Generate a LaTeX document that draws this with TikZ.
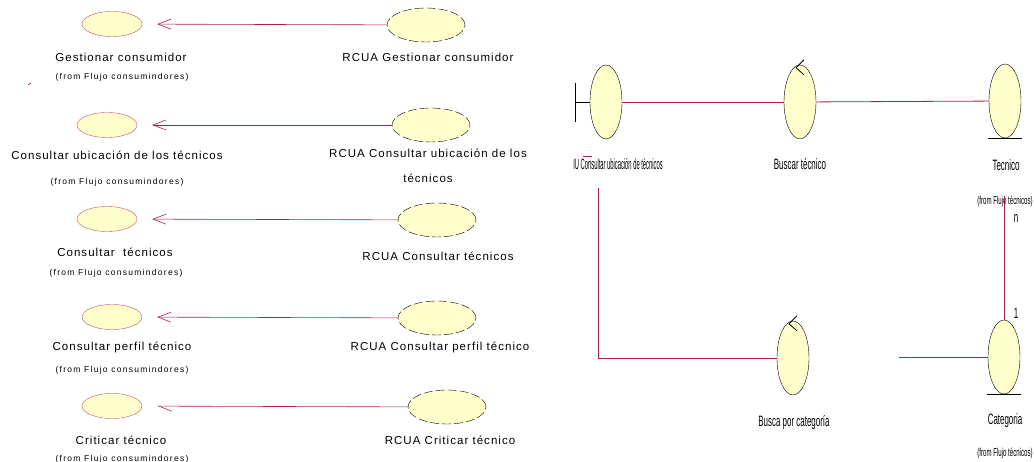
\documentclass[tikz,border=0pt]{standalone}
\usepackage{graphicx}
\usepackage{fontspec}
\setmainfont{Liberation Sans}
\newfontfamily\spacedfont[LetterSpace=9]{Liberation Sans}
\newfontfamily\widefont[LetterSpace=15]{Liberation Sans}
\newfontfamily\narrowfont[FakeStretch=0.53]{Liberation Sans}
\usetikzlibrary{shapes.geometric,arrows.meta}
\definecolor{linkred}{RGB}{170,30,75}
\definecolor{caseedge}{RGB}{200,80,110}
\definecolor{casefill}{RGB}{255,255,204}

\begin{document}
\begin{tikzpicture}[x=1pt,y=-1pt,
	usecase/.style={ellipse,draw=caseedge,fill=casefill,minimum width=60pt,minimum height=25pt,inner sep=0pt},
	realiz/.style={ellipse,draw,dash pattern=on 9pt off 3pt,fill=casefill,minimum width=78pt,minimum height=34pt,inner sep=0pt},
	robust/.style={ellipse,draw,fill=casefill,minimum width=32pt,minimum height=74pt,inner sep=0pt},
	ctrltip/.style={draw,line width=0.8pt},
	caselabel/.style={font=\spacedfont\fontsize{11.5}{25}\selectfont,inner sep=0pt,align=center},
	fromlabel/.style={font=\widefont\fontsize{8.5}{10}\selectfont,inner sep=0pt},
	rlabel/.style={font=\narrowfont\fontsize{15}{17}\selectfont,inner sep=0pt},
	rfrom/.style={font=\narrowfont\fontsize{11.5}{13}\selectfont,inner sep=0pt},
	realize/.style={draw=linkred,line width=0.6pt,-{Straight Barb[length=13pt,width=10pt]},shorten >=15pt},
	link/.style={draw=linkred,line width=0.8pt}]
	\useasboundingbox (0,0) rectangle (1034,462);

		\node [usecase] (u1) at (112,24) {};
		\node [realiz] (r1) at (426,25) {};
		\draw [realize] (r1) -- (u1);
		\node [caselabel] (u1l) at (121,57) {Gestionar consumidor};
		\node [fromlabel] (u1f) at (122,77) {(from Flujo consumindores)};
		\node [caselabel] (r1l) at (428,57) {RCUA Gestionar consumidor};

		\node [usecase] (u2) at (107,125) {};
		\node [realiz] (r2) at (431,125) {};
		\draw [realize] (r2) -- (u2);
		\node [caselabel] (u2l) at (117,155) {Consultar ubicación de los técnicos};
		\node [fromlabel] (u2f) at (117,182) {(from Flujo consumindores)};
		\node [caselabel,anchor=north] (r2l) at (428,149) {RCUA Consultar ubicación de los\\técnicos};

		\node [usecase] (u3) at (107,219) {};
		\node [realiz] (r3) at (437,220) {};
		\draw [realize] (r3) -- (u3);
		\node [caselabel] (u3l) at (115,252) {Consultar\ \ técnicos};
		\node [fromlabel] (u3f) at (116,273) {(from Flujo consumindores)};
		\node [caselabel] (r3l) at (438,256) {RCUA Consultar técnicos};

		\node [usecase] (u4) at (112,317) {};
		\node [realiz] (r4) at (437,318) {};
		\draw [realize] (r4) -- (u4);
		\node [caselabel] (u4l) at (122,347) {Consultar perfil técnico};
		\node [fromlabel] (u4f) at (122,370) {(from Flujo consumindores)};
		\node [caselabel] (r4l) at (440,347) {RCUA Consultar perfil técnico};

		\node [usecase] (u5) at (112,406) {};
		\node [realiz] (r5) at (447,407) {};
		\draw [realize,-{Straight Barb[harpoon,length=13pt,width=10pt]}] (r5) -- (u5);
		\node [caselabel] (u5l) at (121,440) {Criticar técnico};
		\node [fromlabel] (u5f) at (122,459) {(from Flujo consumindores)};
		\node [caselabel] (r5l) at (450,440) {RCUA Criticar técnico};

		\coordinate (tick) at (28,85);
		\draw [link,line width=0.6pt] (tick) -- ++(3,-2);

		\node [robust] (iu) at (606,102) {};
		\draw (iu.west) -- ++(-15,0) coordinate (bnd);
		\draw (bnd) ++(0,-19) -- ++(0,39);
		\node [rlabel] (iul) at (618,164) {\scalebox{0.73}[1]{IU Consultar ubicación de técnicos}};

		\node [robust] (bt) at (800,102) {};
		\coordinate (btv) at ([shift={(-4pt,-3pt)}]bt.north);
		\draw [ctrltip] (btv) -- ++(8,-8);
		\draw [ctrltip] (btv) -- ++(8,7);
		\node [rlabel] (btl) at (800,164) {Buscar técnico};

		\node [robust] (tec) at (1005,101) {};
		\draw ([xshift=-17pt]tec.south) -- ([xshift=17pt]tec.south);
		\node [rlabel] (tecl) at (1006,165) {Tecnico};
		\node [rfrom] (tecf) at (1005,201) {(from Flujo técnicos)};

		\node [robust] (bc) at (793,358) {};
		\coordinate (bcv) at ([shift={(-4pt,-3pt)}]bc.north);
		\draw [ctrltip] (bcv) -- ++(8,-8);
		\draw [ctrltip] (bcv) -- ++(8,7);
		\node [rlabel] (bcl) at (794,423) {Busca por categoría};

		\node [robust] (cat) at (1004,357) {};
		\draw ([xshift=-17pt]cat.south) -- ([xshift=17pt]cat.south);
		\node [rlabel] (catl) at (1005,421) {Categoria};
		\node [rfrom] (catf) at (1005,453) {(from Flujo técnicos)};

		\draw [link] (iu) -- (bt);
		\draw [link] (bt) -- (tec);
		\coordinate (iudown) at (598,188);
		\draw [link] (iudown) |- (bc.west);
		\coordinate (iubar) at (583,156);
		\draw [link] (iubar) -- ++(9,0);
		\coordinate (tecdown) at (1004,196);
		\draw [link] (tecdown) -- (cat.north);
		\coordinate (catleft) at (899,357);
		\draw [link] (catleft) -- (cat.west);
		\node [rlabel] (mn) at (1016,218) {n};
		\node [rlabel] (m1) at (1016,313) {1};
\end{tikzpicture}
\end{document}
